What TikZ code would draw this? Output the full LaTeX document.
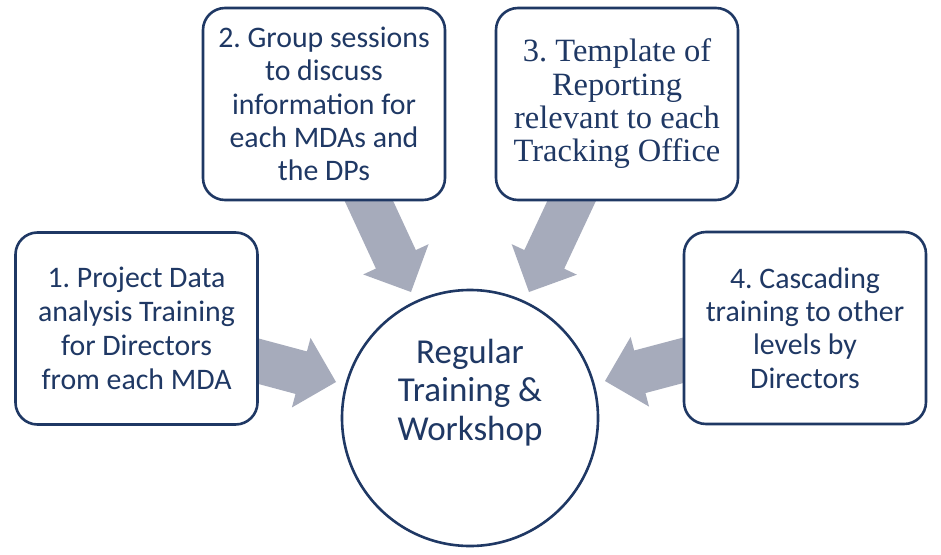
\documentclass[tikz,border=0pt]{standalone}
\usepackage{fontspec}
\setmainfont{Carlito}
\newfontfamily\serifbox{Liberation Serif}
\usetikzlibrary{calc,backgrounds}
\frenchspacing
\definecolor{navy}{HTML}{1F3864}
\definecolor{arrowgray}{HTML}{A6ABBB}
% block arrow from #1 (tail, hidden under a box) to #2 (tip)
\newcommand\blockarrow[2]{%
  \fill[arrowfill] let \p1=(#1), \p2=(#2),
      \n1={atan2(\y2-\y1,\x2-\x1)}, \n2={veclen(\x2-\x1,\y2-\y1)} in
    ($(\p1)+(\n1+90:22)$) --
    ($(\p1)+(\n1:\n2-36)+(\n1+90:22)$) --
    ($(\p1)+(\n1:\n2-36)+(\n1+90:36)$) --
    (\p2) --
    ($(\p1)+(\n1:\n2-36)+(\n1-90:36)$) --
    ($(\p1)+(\n1:\n2-36)+(\n1-90:22)$) --
    ($(\p1)+(\n1-90:22)$) -- cycle;}
\begin{document}
\begin{tikzpicture}[x=1pt,y=1pt,
  box/.style={draw=navy, line width=2.6pt, rounded corners=22pt, fill=white,
    minimum width=242pt, minimum height=192pt, inner sep=0pt, align=center,
    text=navy, font=\fontsize{29.8}{34}\selectfont},
  serifboxstyle/.style={box, font=\serifbox\fontsize{32.5}{33.3}\selectfont},
  hub/.style={circle, draw=navy, line width=2.6pt, fill=white,
    minimum size=256pt, inner sep=0pt},
  hubtext/.style={text=navy, align=center, inner sep=0pt,
    font=\fontsize{35}{38.5}\selectfont},
  arrowfill/.style={fill=arrowgray}]
\useasboundingbox (0,0) rectangle (941,-554);

\node[box] (b1) at (136.5,-328.5) {1. Project Data\\analysis Training\\for Directors\\from each MDA};
\node[box, font=\fontsize{29.8}{33.3}\selectfont] (b2) at (324,-104) {2. Group sessions\\to discuss\\information for\\each MDAs and\\the DPs};
\node[serifboxstyle] (b3) at (617,-104) {3. Template of\\Reporting\\relevant to each\\Tracking Office};
\node[box, font=\fontsize{29.8}{33.3}\selectfont] (b4) at (805,-328) {4. Cascading\\training to other\\levels by\\Directors};

\node[hub] (hub) at (470,-418) {};
\node[hubtext] (hubtxt) at ([yshift=25.5pt]hub.center) {Regular\\Training \&\\Workshop};

\coordinate (t1) at (336,-382);
\coordinate (t2) at (411,-292);
\coordinate (t3) at (529,-292);
\coordinate (t4) at (605,-381);

\begin{scope}[on background layer]
  \fill[white] (0,0) rectangle (941,-554);
  \blockarrow{b1.center}{t1}
  \blockarrow{b2.center}{t2}
  \blockarrow{b3.center}{t3}
  \blockarrow{b4.center}{t4}
\end{scope}
\end{tikzpicture}
\end{document}
